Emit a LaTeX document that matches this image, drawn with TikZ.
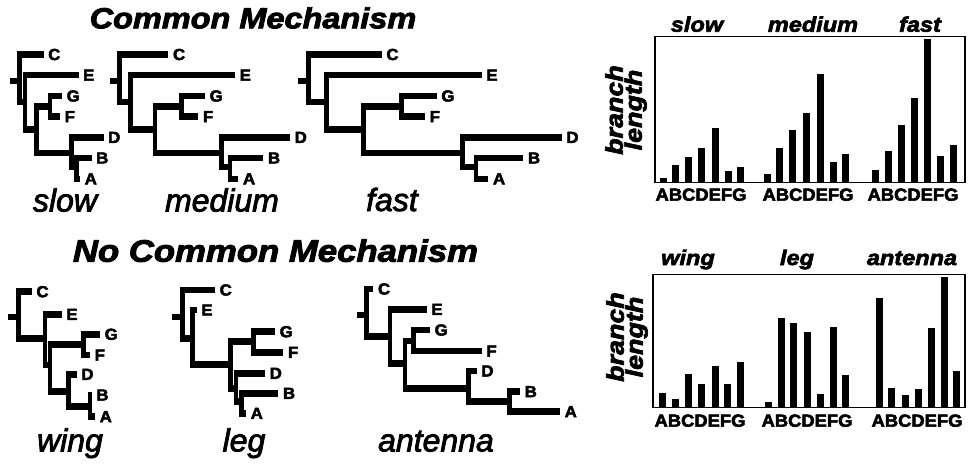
\documentclass[tikz,border=0pt]{standalone}
\usepackage{fontspec}
\usetikzlibrary{calc}
\setmainfont{Liberation Sans}
\newfontface\hvi[FakeBold=3,FakeStretch=1.12]{Liberation Sans Bold Italic}
\newfontface\hvb[FakeBold=3,FakeStretch=1.05]{Liberation Sans Bold}
\newfontface\capit[FakeBold=2.5]{Liberation Sans Italic}
\tikzset{
  vb/.style={line width=4.5pt},
  hb/.style={line width=6.5pt},
  leaf/.style={anchor=west, inner sep=0pt, font=\hvb\fontsize{16}{16}\selectfont},
  tcap/.style={anchor=base, inner sep=0pt, font=\capit\fontsize{32}{32}\selectfont},
  ttl/.style={anchor=base, inner sep=0pt, font=\hvi\fontsize{29}{30}\selectfont},
  col/.style={anchor=base, inner sep=0pt, font=\hvi\fontsize{21}{21}\selectfont},
  abc/.style={anchor=base, inner sep=0pt, font=\hvb\fontsize{17.5}{18}\selectfont},
  ylab/.style={inner sep=0pt, rotate=90, align=center, font=\hvi\fontsize{24}{19}\selectfont},
  frm/.style={line width=1.3pt},
}
% edge from parent #1 to child #2: thin vertical, thick horizontal
\newcommand\edge[2]{%
  \draw[vb] (#1) |- (#2);
  \draw[hb] ($(#1 |- #2)+(-2.25,0)$) -- (#2);
}
\newcommand\drawtree[1]{%
  \draw[hb] (#1st) -- ($(#1r)+(2,0)$);
  \edge{#1r}{#1C}
  \edge{#1r}{#1ER}
  \edge{#1ER}{#1E}
  \edge{#1ER}{#1R}
  \edge{#1R}{#1GF}
  \edge{#1R}{#1DBA}
  \edge{#1GF}{#1G}
  \edge{#1GF}{#1F}
  \edge{#1DBA}{#1D}
  \edge{#1DBA}{#1BA}
  \edge{#1BA}{#1B}
  \edge{#1BA}{#1A}
  \foreach \q in {A,...,G} {\node[leaf] (#1l\q) at ([xshift=4.5pt]#1\q) {\q};}
}
\newcommand\barset[2]{\foreach \x/\t in {#2} {\fill ({\x-3.5},#1) rectangle ({\x+3.5},\t);}}
\begin{document}
\begin{tikzpicture}[x=1pt,y=-1pt]
\useasboundingbox[fill=white] (0,0) rectangle (969,466);

% titles
\node[ttl] (t1) at (253,28.3) {Common Mechanism};
\node[ttl, font=\hvi\fontsize{31}{32}\selectfont] (t2) at (275.5,261.7) {No Common Mechanism};

% ---- slow
\coordinate (s-st) at (10,81);   \coordinate (s-r) at (19.5,81);
\coordinate (s-C) at (43.5,54.5); \coordinate (s-ER) at (25,102);
\coordinate (s-E) at (78.5,75.2); \coordinate (s-R) at (36.5,129.6);
\coordinate (s-GF) at (50,106.3); \coordinate (s-G) at (62,96);
\coordinate (s-F) at (60,116.7);  \coordinate (s-DBA) at (71.5,153);
\coordinate (s-D) at (103.5,137.4); \coordinate (s-BA) at (76.5,167);
\coordinate (s-B) at (91.5,158);  \coordinate (s-A) at (80,178.8);
\drawtree{s-}
% ---- medium
\coordinate (m-st) at (110,81);   \coordinate (m-r) at (119.3,81);
\coordinate (m-C) at (168.3,54.5); \coordinate (m-ER) at (130.7,102);
\coordinate (m-E) at (235,75.2); \coordinate (m-R) at (155,129.6);
\coordinate (m-GF) at (181.7,106.3); \coordinate (m-G) at (205,96);
\coordinate (m-F) at (198.3,116.7);  \coordinate (m-DBA) at (221.7,153);
\coordinate (m-D) at (290,137.4); \coordinate (m-BA) at (230,167);
\coordinate (m-B) at (263.3,158);  \coordinate (m-A) at (238.3,178.8);
\drawtree{m-}
% ---- fast
\coordinate (f-st) at (298.3,81);   \coordinate (f-r) at (308.3,81);
\coordinate (f-C) at (381.7,54.5); \coordinate (f-ER) at (326.7,102);
\coordinate (f-E) at (481.7,75.2); \coordinate (f-R) at (363.3,129.6);
\coordinate (f-GF) at (401.7,106.3); \coordinate (f-G) at (436.7,96);
\coordinate (f-F) at (425,116.7);  \coordinate (f-DBA) at (462.7,153);
\coordinate (f-D) at (561.7,137.4); \coordinate (f-BA) at (476,167);
\coordinate (f-B) at (523.3,158);  \coordinate (f-A) at (488.3,178.8);
\drawtree{f-}
% ---- wing
\coordinate (w-st) at (8.3,317);   \coordinate (w-r) at (18.3,317);
\coordinate (w-C) at (31.7,291.7); \coordinate (w-ER) at (45,338.3);
\coordinate (w-E) at (61.7,314.3); \coordinate (w-R) at (50,365);
\coordinate (w-GF) at (83.3,344.3); \coordinate (w-G) at (100,334.3);
\coordinate (w-F) at (90,355);  \coordinate (w-DBA) at (68.3,391.7);
\coordinate (w-D) at (76.7,374.3); \coordinate (w-BA) at (90,406.7);
\coordinate (w-B) at (91.7,395);  \coordinate (w-A) at (95,416.7);
\drawtree{w-}
% ---- leg
\coordinate (l-st) at (171.7,317);   \coordinate (l-r) at (182.7,317);
\coordinate (l-C) at (215,290); \coordinate (l-ER) at (192.7,338.3);
\coordinate (l-E) at (196.7,310); \coordinate (l-R) at (230.7,364.3);
\coordinate (l-GF) at (253.3,341.7); \coordinate (l-G) at (275,331.7);
\coordinate (l-F) at (283.3,352.3);  \coordinate (l-DBA) at (236,388.3);
\coordinate (l-D) at (265,373.3); \coordinate (l-BA) at (241.7,401.7);
\coordinate (l-B) at (278.3,393.3);  \coordinate (l-A) at (246,413.3);
\drawtree{l-}
% ---- antenna
\coordinate (a-st) at (356.7,315);   \coordinate (a-r) at (366.7,315);
\coordinate (a-C) at (373.3,289); \coordinate (a-ER) at (390,336.7);
\coordinate (a-E) at (426.7,309.3); \coordinate (a-R) at (405,363.3);
\coordinate (a-GF) at (413.3,341); \coordinate (a-G) at (430,330);
\coordinate (a-F) at (481.7,351);  \coordinate (a-DBA) at (468.3,388.3);
\coordinate (a-D) at (476.7,371); \coordinate (a-BA) at (509.3,401.7);
\coordinate (a-B) at (520,391.7);  \coordinate (a-A) at (560,411.7);
\drawtree{a-}

% tree captions
\node[tcap] (cs) at (65,211.5) {slow};
\node[tcap] (cm) at (222,211.5) {medium};
\node[tcap] (cf) at (392,211) {fast};
\node[tcap] (cw) at (70,451.5) {wing};
\node[tcap] (cl) at (244,451.5) {leg};
\node[tcap] (ca) at (436,451.5) {antenna};

% ---- top chart
\draw[frm] (655,36.5) rectangle (965,182.5);
\barset{182}{663/178,675/165,688/157,701/148,715/128,728/171,740/167}
\barset{182}{767/174,779/148,792/130,806/113,820/74,833/162,845/154}
\barset{182}{875/170,888/151,901/125,914/98,927/39,940/156,953/145}
\node[col] (h1) at (697,31.7) {slow};
\node[col] (h2) at (813,31.7) {medium};
\node[col] (h3) at (920,31.7) {fast};
\node[abc] (x1) at (701,200.7) {ABCDEFG};
\node[abc] (x2) at (808,200.7) {ABCDEFG};
\node[abc] (x3) at (913,200.7) {ABCDEFG};
\node[ylab] (y1) at (626,110) {branch\\length};

% ---- bottom chart
\draw[frm] (653,274.3) rectangle (965,407.5);
\barset{406.8}{662/393,675/399,688/374,701/384,715/366,727/384,740/362}
\barset{406.8}{768/402,781/318,793/323,807/332,820/394,833/327,845/375}
\barset{406.8}{879/298,891/388,905/395,918/389,931/328,944/277,956/371}
\node[col] (h4) at (688,265) {wing};
\node[col] (h5) at (797,265) {leg};
\node[col] (h6) at (912,265) {antenna};
\node[abc] (x4) at (700,426.7) {ABCDEFG};
\node[abc] (x5) at (807,426.7) {ABCDEFG};
\node[abc] (x6) at (917,426.7) {ABCDEFG};
\node[ylab] (y2) at (627,337) {branch\\length};
\end{tikzpicture}
\end{document}
